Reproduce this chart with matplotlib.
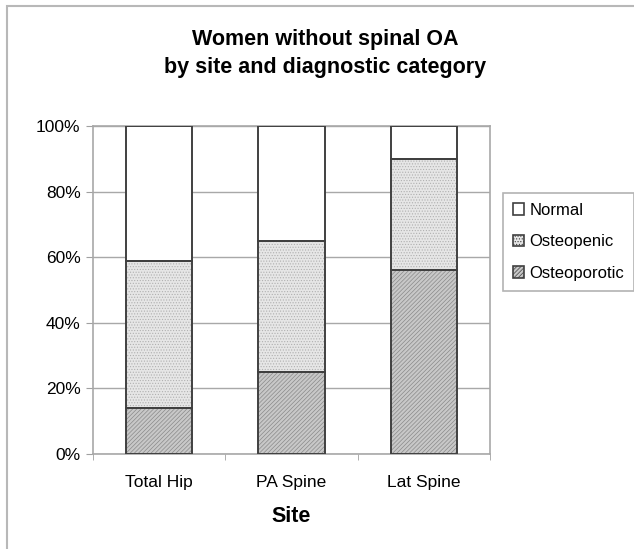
import numpy as np
import matplotlib
matplotlib.use('Agg')
import matplotlib.pyplot as plt
from matplotlib.patches import Rectangle

sites = ['Total Hip', 'PA Spine', 'Lat Spine']
osteoporotic = [14, 25, 56]
osteopenic = [45, 40, 34]
normal = [41, 35, 10]

plt.rcParams['font.family'] = ['Liberation Sans', 'DejaVu Sans']
plt.rcParams['hatch.linewidth'] = 0.5

fig = plt.figure(figsize=(6.34, 5.49), dpi=100)
# chart-area frame (runs off the right and bottom edges)
fig.patches.append(Rectangle((0.011, -0.1), 1.2, 1.089, transform=fig.transFigure,
                             fill=False, edgecolor='#b8b8b8', linewidth=1.5))
ax = fig.add_axes([0.1467, 0.173, 0.626, 0.597])

x = np.arange(len(sites))
w = 0.5
bottom1 = np.array(osteoporotic)
bottom2 = bottom1 + np.array(osteopenic)

# hatched fills first, outlines on top
ax.bar(x, osteoporotic, w, color='#c8c8c8', hatch='////////', edgecolor='#8a8a8a', linewidth=0, zorder=2)
ax.bar(x, osteopenic, w, bottom=bottom1, color='#e6e6e6', hatch='......', edgecolor='#b0b0b0', linewidth=0, zorder=2)
ax.bar(x, normal, w, bottom=bottom2, color='white', linewidth=0, zorder=2)
for b, h in [(0, osteoporotic), (bottom1, osteopenic), (bottom2, normal)]:
    ax.bar(x, h, w, bottom=b, fill=False, edgecolor='#404040', linewidth=1.4, zorder=3)

# legend proxies
handles = [
    Rectangle((0, 0), 1, 1, facecolor='white', edgecolor='#404040', linewidth=1.2),
    Rectangle((0, 0), 1, 1, facecolor='#e6e6e6', hatch='......', edgecolor='#404040', linewidth=1.2),
    Rectangle((0, 0), 1, 1, facecolor='#c8c8c8', hatch='////////', edgecolor='#404040', linewidth=1.2),
]
leg = fig.legend(handles, ['Normal', 'Osteopenic', 'Osteoporotic'], loc='upper left',
                 bbox_to_anchor=(0.793, 0.649), fontsize=12, frameon=True, fancybox=False,
                 edgecolor='#a0a0a0', handlelength=0.7, handleheight=0.7, handletextpad=0.3,
                 labelspacing=1.0, borderpad=0.6, borderaxespad=0)
leg.get_frame().set_linewidth(1.2)

ax.set_xlim(-0.5, 2.5)
ax.set_ylim(0, 100)
ax.set_yticks(np.arange(0, 101, 20))
ax.set_yticklabels([str(v) + '%' for v in range(0, 101, 20)], fontsize=12.5)
ax.set_xticks(x)
ax.set_xticklabels(sites, fontsize=12.5)
ax.set_xticks([-0.5, 0.5, 1.5, 2.5], minor=True)
ax.tick_params(axis='x', which='major', length=0, pad=15)
ax.tick_params(axis='x', which='minor', length=4, color='#a0a0a0')
ax.tick_params(axis='y', length=5, color='#a0a0a0', pad=4)
ax.yaxis.grid(True, color='#a8a8a8', linewidth=1, zorder=0)
ax.set_axisbelow(True)
for s in ax.spines.values():
    s.set_color('#a8a8a8')
    s.set_linewidth(1.2)

ax.set_xlabel('Site', fontsize=15.5, fontweight='bold')
ax.xaxis.set_label_coords(0.5, -0.192)
ax.xaxis.label.set_va('center')
fig.text(0.513, 0.902, 'Women without spinal OA\nby site and diagnostic category', ha='center',
         va='center', fontsize=15.5, fontweight='bold', linespacing=1.45)

fig.savefig('out.png', dpi=100)
